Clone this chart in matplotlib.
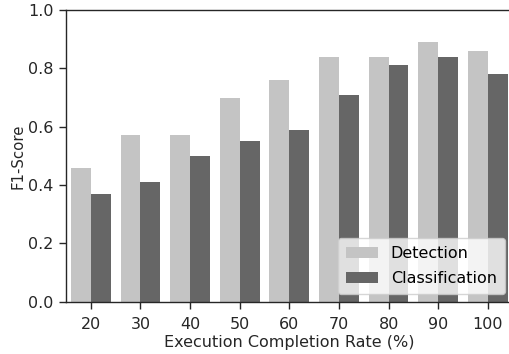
import matplotlib
matplotlib.use("Agg")
import matplotlib.pyplot as plt
import numpy as np

rates = ["20", "30", "40", "50", "60", "70", "80", "90", "100"]
detection = [0.46, 0.57, 0.57, 0.70, 0.76, 0.84, 0.84, 0.89, 0.86]
classification = [0.37, 0.41, 0.50, 0.55, 0.59, 0.71, 0.81, 0.84, 0.78]

W, H = 510, 354
fig = plt.figure(figsize=(W/100, H/100), dpi=100)
ax = fig.add_axes([66/W, 1-301.7/H, (512.7-66)/W, (301.7-10)/H])

x = np.arange(len(rates))
bw = 0.4
ax.bar(x - bw/2, detection, bw, color="#c4c4c4", label="Detection")
ax.bar(x + bw/2, classification, bw, color="#666666", label="Classification")

fs = 11.5
ax.set_xlim(-0.5, len(rates) - 0.5)
ax.set_ylim(0, 1.0)
ax.set_xticks(x)
ax.set_xticklabels(rates)
ax.set_yticks([0, 0.2, 0.4, 0.6, 0.8, 1.0])
ax.tick_params(labelsize=fs, colors="#262626", length=5, width=1.0)
ax.tick_params(axis="x", pad=6)
ax.tick_params(axis="y", pad=4)
ax.spines["right"].set_visible(False)
for s in ["left", "bottom", "top"]:
    ax.spines[s].set_color("#262626")
    ax.spines[s].set_linewidth(1.0)
ax.set_xlabel("Execution Completion Rate (%)", fontsize=fs, color="#262626", labelpad=2)
ax.set_ylabel("F1-Score", fontsize=10.7, color="#262626", labelpad=1.5)
ax.legend(loc="lower right", fontsize=fs, labelspacing=0.6, borderpad=0.5)

fig.savefig("out.png", dpi=100)
